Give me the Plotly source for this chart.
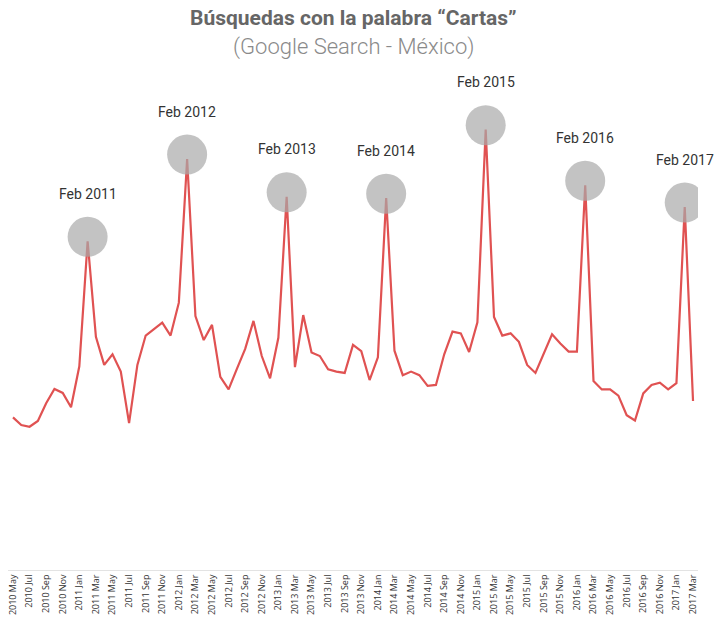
import plotly.graph_objects as go

month_names = ["Jan", "Feb", "Mar", "Apr", "May", "Jun", "Jul", "Aug", "Sep", "Oct", "Nov", "Dec"]
months = []
for yr in range(2010, 2018):
    for mi, mn in enumerate(month_names):
        if (yr == 2010 and mi < 4) or (yr == 2017 and mi > 2):
            continue
        months.append(f"{yr} {mn}")

values = [
    34.3, 32.6, 32.2, 33.5, 37.5, 40.7, 39.8, 36.6,              # 2010 May-Dec
    45.8, 73.9, 52.4, 46.1, 48.5, 44.6, 33.0, 46.1, 52.7, 54.2, 55.6, 52.7,  # 2011
    60.1, 92.4, 57.1, 51.7, 55.1, 43.4, 40.6, 45.2, 49.7, 56.0, 48.1, 43.1,  # 2012
    52.2, 83.9, 45.6, 57.3, 48.9, 48.1, 45.1, 44.6, 44.3, 50.6, 49.2, 42.7,  # 2013
    47.8, 83.6, 49.3, 43.8, 44.6, 43.8, 41.4, 41.6, 48.5, 53.6, 53.2, 49.0,  # 2014
    55.7, 99.0, 56.9, 52.7, 53.2, 51.3, 46.1, 44.3, 48.5, 53.0, 50.9, 49.1,  # 2015
    49.1, 86.5, 42.5, 40.6, 40.6, 39.2, 34.8, 33.6, 39.7, 41.6, 42.1, 40.6,  # 2016
    42.0, 81.6, 38.0,                                            # 2017 Jan-Mar
]

tick_labels = months[::2]
peak_months = ["2011 Feb", "2012 Feb", "2013 Feb", "2014 Feb", "2015 Feb", "2016 Feb", "2017 Feb"]
peak_labels = ["Feb 2011", "Feb 2012", "Feb 2013", "Feb 2014", "Feb 2015", "Feb 2016", "Feb 2017"]
peak_values = [values[months.index(m)] for m in peak_months]

title_text = "Búsquedas con la palabra “Cartas”"
subtitle_text = "(Google Search - México)"

fig = go.Figure()
fig.add_trace(go.Scatter(
    x=months, y=values, mode="lines",
    line=dict(color="#e05252", width=2.2),
    hoverinfo="x+y", showlegend=False,
))
fig.add_trace(go.Scatter(
    x=peak_months, y=[v + 1.0 for v in peak_values], mode="markers",
    marker=dict(size=40, color="rgba(170,170,170,0.7)", line=dict(width=0)),
    hoverinfo="skip", showlegend=False,
))

for m, v, lab in zip(peak_months, peak_values, peak_labels):
    fig.add_annotation(
        x=m, y=v + 1.0, text=lab, showarrow=False, yshift=43,
        font=dict(family="Roboto", size=14, color="#333333"),
    )

fig.add_annotation(
    xref="paper", yref="paper", x=0.5, y=1.104, xanchor="center", yanchor="middle",
    text=f"<b>{title_text}</b>", showarrow=False,
    font=dict(family="Roboto", size=21, color="#666666"),
)
fig.add_annotation(
    xref="paper", yref="paper", x=0.5, y=1.046, xanchor="center", yanchor="middle",
    text=subtitle_text, showarrow=False,
    font=dict(family="Roboto", size=22, color="#8a8a8a", weight=300),
)

fig.update_layout(
    width=715, height=620,
    margin=dict(l=8, r=17, t=70, b=50, autoexpand=False),
    paper_bgcolor="white", plot_bgcolor="white",
    xaxis=dict(
        type="category", categoryorder="array", categoryarray=months,
        range=[-0.6, len(months) - 0.4], automargin=False,
        tickmode="array", tickvals=tick_labels, ticktext=tick_labels,
        tickangle=-90, tickfont=dict(family="Open Sans", size=9, color="#333333"),
        showgrid=False, zeroline=False, showline=True, linecolor="#e3e3e3", linewidth=1,
        ticks="", fixedrange=True,
    ),
    yaxis=dict(
        range=[0, 112.4], visible=False, showgrid=False, zeroline=False, fixedrange=True,
        automargin=False,
    ),
)

fig.write_html("out.html", config={"displayModeBar": False},
               post_script="document.body.style.margin='0px';")
